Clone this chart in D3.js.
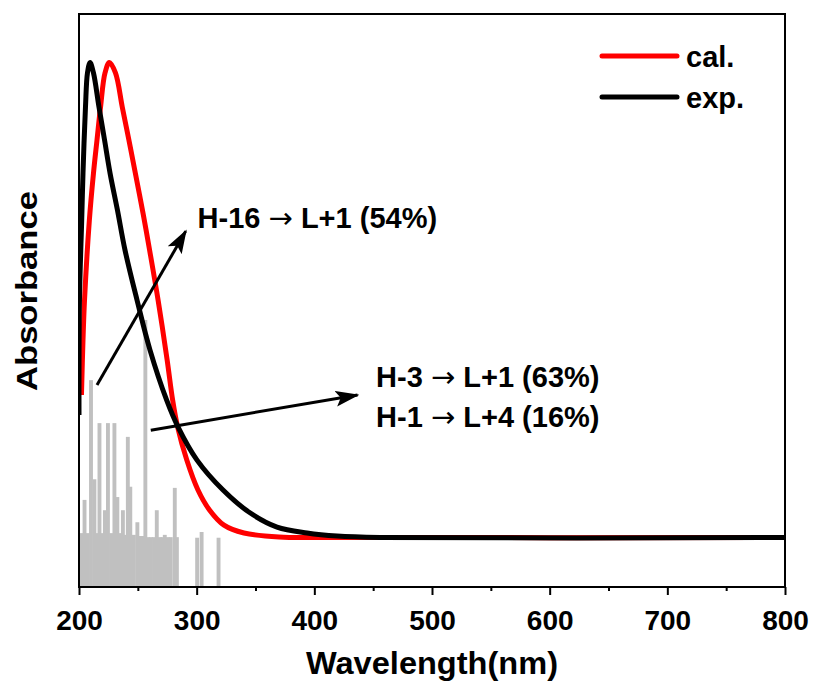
<!DOCTYPE html>
<html lang="en">
<head>
    <meta charset="UTF-8">
    <title>Absorbance spectrum</title>
    <script src="https://d3js.org/d3.v7.min.js"></script>
    <style>
        body { margin: 0; background: #fff; }
        text { font-family: "Liberation Sans", Arial, sans-serif; font-weight: bold; }
    </style>
</head>
<body>
    <svg width="813" height="689"></svg>
    <script>
        // calculated spectrum (wavelength nm, normalised absorbance)
        const calSpectrum = [
            [202.1, 0.300], [203.4, 0.416], [204.7, 0.500], [208.8, 0.668], [212.3, 0.767],
            [215.3, 0.837], [218.3, 0.906], [222.1, 0.978], [225.8, 1.0], [231.0, 0.978],
            [236.8, 0.906], [242.4, 0.837], [247.9, 0.767], [254.7, 0.679], [260.0, 0.605],
            [267.2, 0.500], [274.9, 0.374], [279.6, 0.289], [283.8, 0.233], [291.6, 0.163],
            [301.1, 0.100], [310.9, 0.058], [323.2, 0.026], [340.2, 0.0095], [370.0, 0.001],
            [413.3, 0], [800, 0]
        ];
        // experimental spectrum
        const expSpectrum = [
            [200.0, 0.258], [200.4, 0.500], [202.3, 0.668], [203.4, 0.767], [205.5, 0.906],
            [207.2, 0.978], [209.4, 1.0], [212.3, 0.978], [217.0, 0.906], [221.7, 0.837],
            [226.4, 0.767], [232.7, 0.689], [239.1, 0.605], [249.3, 0.500], [260.3, 0.395],
            [274.5, 0.289], [284.1, 0.233], [300.3, 0.163], [322.4, 0.100], [345.3, 0.052],
            [368.3, 0.022], [393.8, 0.0095], [419.3, 0.003], [455.8, 0], [800, 0]
        ];
        // calculated transitions (wavelength nm, relative oscillator strength)
        const transitions = [
            [202.0, 0.094], [204.7, 0.152], [207.5, 0.094], [210.2, 0.361], [213.1, 0.188],
            [215.8, 0.094], [217.4, 0.286], [219.5, 0.094], [222.0, 0.134], [224.6, 0.286],
            [227.3, 0.094], [230.1, 0.286], [232.6, 0.157], [235.2, 0.094], [237.3, 0.134],
            [239.4, 0.091], [241.5, 0.262], [243.6, 0.175], [246.6, 0.091], [249.6, 0.113],
            [251.7, 0.089], [254.1, 0.089], [256.4, 0.466], [258.6, 0.087], [261.2, 0.087],
            [263.8, 0.087], [266.1, 0.134], [268.7, 0.087], [271.0, 0.087], [272.9, 0.091],
            [275.4, 0.087], [278.0, 0.087], [281.4, 0.173], [283.2, 0.087],
            [300.4, 0.086], [304.2, 0.096], [318.6, 0.086]
        ];
        const xTicks = [200, 300, 400, 500, 600, 700, 800];
        const xMinorTicks = [250, 350, 450, 550, 650, 750];
        const seriesNames = ["cal.", "exp."];
        const seriesColors = ["#ff0000", "#000000"];
        // annotations: arrow from -> to (data units), labels
        const arrows = [
            { from: [215.3, 0.321], to: [290.7, 0.645] },
            { from: [261.0, 0.226], to: [436.7, 0.300] }
        ];
        const labels = [
            { at: [300.8, 0.652], lines: [["H-16", "L+1 (54%)"]] },
            { at: [452.5, 0.317], lines: [["H-3", "L+1 (63%)"], ["H-1", "L+4 (16%)"]] }
        ];

        const plotL = 79, plotR = 785, plotT = 14, plotB = 587;
        const svg = d3.select("svg");

        const x = d3.scaleLinear().domain([200, 800]).range([plotL, plotR]);
        const y = d3.scaleLinear().domain([0, 1]).range([537.5, 62.5]);
        const yBar = d3.scaleLinear().domain([0, 1]).range([plotB, plotT]);

        const defs = svg.append("defs");
        defs.append("clipPath").attr("id", "plot")
            .append("rect").attr("x", plotL).attr("y", plotT)
            .attr("width", plotR - plotL).attr("height", plotB - plotT);

        defs.append("marker")
            .attr("id", "head").attr("markerUnits", "userSpaceOnUse")
            .attr("viewBox", "0 0 24 16").attr("refX", 22).attr("refY", 8)
            .attr("markerWidth", 24).attr("markerHeight", 16).attr("orient", "auto")
            .append("path").attr("d", "M0,0 L24,8 L0,16 L5,8 Z").attr("fill", "#000");

        const plot = svg.append("g").attr("clip-path", "url(#plot)");

        // bars
        const bw = 3.3;
        plot.selectAll("rect.bar").data(transitions).enter().append("rect")
            .attr("class", "bar")
            .attr("x", d => x(d[0] - bw / 2))
            .attr("width", x(200 + bw) - x(200))
            .attr("y", d => yBar(d[1]))
            .attr("height", d => yBar(0) - yBar(d[1]))
            .attr("fill", "#c0c0c0");

        const line = d3.line().x(d => x(d[0])).y(d => y(d[1])).curve(d3.curveCatmullRom.alpha(0.5));
        [calSpectrum, expSpectrum].forEach((s, i) => {
            plot.append("path").datum(s).attr("d", line)
                .attr("fill", "none").attr("stroke", seriesColors[i])
                .attr("stroke-width", 5).attr("stroke-linejoin", "round");
        });

        // frame
        svg.append("rect").attr("x", plotL).attr("y", plotT)
            .attr("width", plotR - plotL).attr("height", plotB - plotT)
            .attr("fill", "none").attr("stroke", "#000").attr("stroke-width", 2);

        // x axis
        const ax = svg.append("g").attr("transform", `translate(0,${plotB})`)
            .call(d3.axisBottom(x).tickValues(xTicks).tickSize(8).tickPadding(15));
        ax.select(".domain").remove();
        ax.selectAll("line").attr("stroke-width", 2);
        ax.selectAll("text").attr("font-size", 28).attr("font-family", null).attr("fill", "#000");
        const axm = svg.append("g").attr("transform", `translate(0,${plotB})`)
            .call(d3.axisBottom(x).tickValues(xMinorTicks).tickSize(4).tickFormat(""));
        axm.select(".domain").remove();
        axm.selectAll("line").attr("stroke-width", 2);

        svg.append("text").attr("x", (plotL + plotR) / 2).attr("y", 674)
            .attr("text-anchor", "middle").attr("font-size", 31)
            .attr("textLength", 252).attr("lengthAdjust", "spacingAndGlyphs")
            .text("Wavelength(nm)");
        svg.append("text").attr("transform", "translate(37,291) rotate(-90)")
            .attr("text-anchor", "middle").attr("font-size", 30)
            .attr("textLength", 200).attr("lengthAdjust", "spacingAndGlyphs")
            .text("Absorbance");

        // arrows
        svg.selectAll("line.arrow").data(arrows).enter().append("line")
            .attr("class", "arrow")
            .attr("x1", d => x(d.from[0])).attr("y1", d => y(d.from[1]))
            .attr("x2", d => x(d.to[0])).attr("y2", d => y(d.to[1]))
            .attr("stroke", "#000").attr("stroke-width", 3)
            .attr("marker-end", "url(#head)");

        // transition labels
        labels.forEach(l => {
            l.lines.forEach((ln, j) => {
                const t = svg.append("text")
                    .attr("x", x(l.at[0])).attr("y", y(l.at[1]) + j * 40)
                    .attr("font-size", 29);
                t.append("tspan").text(ln[0] + " ");
                t.append("tspan").attr("font-weight", "normal")
                    .attr("font-family", "DejaVu Sans").text("\u2192");
                t.append("tspan").text(" " + ln[1]);
            });
        });

        // legend
        const lg = svg.append("g");
        seriesNames.forEach((name, i) => {
            const ly = 56 + i * 41;
            lg.append("line").attr("x1", 602).attr("x2", 677).attr("y1", ly).attr("y2", ly)
                .attr("stroke", seriesColors[i]).attr("stroke-width", 5).attr("stroke-linecap", "round");
            lg.append("text").attr("x", 686).attr("y", ly + 11).attr("font-size", 29).text(name);
        });
    </script>
</body>
</html>
